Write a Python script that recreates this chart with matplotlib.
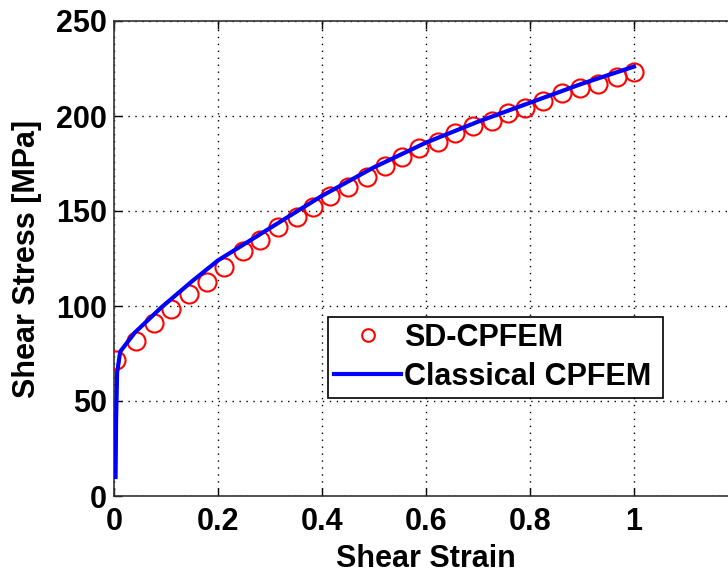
import matplotlib
matplotlib.use("Agg")
import matplotlib.pyplot as plt

# SD-CPFEM (red circles)
sd_strain = [0.003, 0.042, 0.077, 0.110, 0.144, 0.179, 0.212, 0.248, 0.281, 0.315,
             0.352, 0.383, 0.415, 0.450, 0.486, 0.521, 0.554, 0.587, 0.623, 0.656,
             0.690, 0.727, 0.758, 0.790, 0.825, 0.862, 0.896, 0.930, 0.967, 1.000]
sd_stress = [71.5, 81.5, 91.0, 98.5, 106.5, 112.5, 120.5, 129.0, 135.0, 141.5,
             147.0, 152.0, 158.0, 162.5, 168.0, 173.5, 178.5, 183.0, 186.5, 191.0,
             194.5, 197.5, 201.5, 204.0, 208.0, 212.0, 214.5, 217.0, 220.5, 223.0]

# Classical CPFEM (blue line)
cl_strain = [0.003, 0.004, 0.006, 0.012, 0.040, 0.090, 0.150, 0.200, 0.300, 0.400,
             0.500, 0.600, 0.700, 0.800, 0.900, 1.000]
cl_stress = [10, 40, 65, 76, 86, 99, 113, 124, 141, 158,
             173, 186, 197, 207, 217, 226]

xticks = [0, 0.2, 0.4, 0.6, 0.8, 1.0, 1.2]
# the 1.2 label falls outside the cropped picture
xtick_labels = ['0', '0.2', '0.4', '0.6', '0.8', '1', '']
yticks = [0, 50, 100, 150, 200, 250]

plt.rcParams['font.family'] = ['Liberation Sans', 'DejaVu Sans']
plt.rcParams['font.weight'] = 'bold'

fig = plt.figure(figsize=(7.28, 5.73), dpi=100)
# axes runs past the right edge, like the cropped original
ax = fig.add_axes([114 / 728, 77 / 573, 624 / 728, 475 / 573])

ax.plot(sd_strain, sd_stress, 'o', mfc='none', mec='red', ms=13, mew=1.5,
        label='SD-CPFEM', zorder=3)
ax.plot(cl_strain, cl_stress, '-', color='blue', lw=3, label='Classical CPFEM', zorder=4)

ax.set_xlim(0, 1.2)
ax.set_ylim(0, 250)
ax.set_xticks(xticks)
ax.set_xticklabels(xtick_labels)
ax.set_yticks(yticks)

ax.grid(True, color='black', linestyle=(0, (1, 4)), linewidth=1)
ax.tick_params(direction='in', top=True, right=True, labelsize=22, length=6,
               width=1, color='black')
ax.tick_params(axis='x', pad=8)
ax.tick_params(axis='y', pad=5)
for s in ax.spines.values():
    s.set_color('#333333')
    s.set_linewidth(1.2)

ax.set_xlabel('Shear Strain', fontsize=22, fontweight='bold', labelpad=5)
ax.set_ylabel('Shear Stress [MPa]', fontsize=22, fontweight='bold', labelpad=10)

leg = ax.legend(loc='lower left', bbox_to_anchor=(0.343, 0.206, 0.537, 0.19),
                mode='expand', fontsize=22, markerscale=0.7, frameon=True,
                fancybox=False, borderaxespad=0, handlelength=2.2,
                borderpad=0.2, labelspacing=0.3, handletextpad=0.1)
leg.get_frame().set_edgecolor('black')
leg.get_frame().set_linewidth(1.2)
leg.get_frame().set_alpha(1)

fig.savefig('out.png', dpi=100)
